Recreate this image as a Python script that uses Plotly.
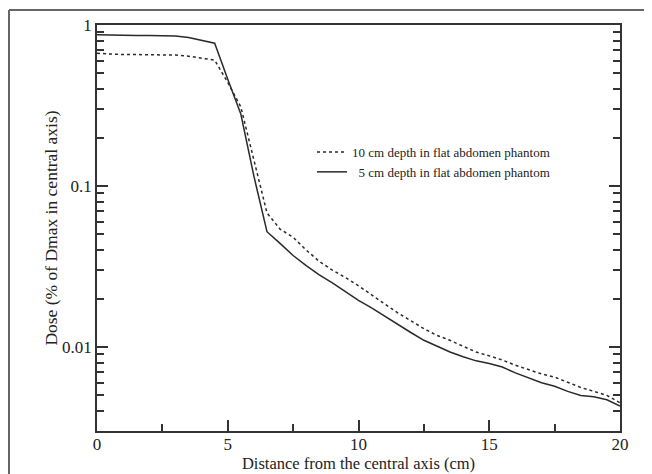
import plotly.graph_objects as go

# Distance from central axis (cm)
distance = [0, 0.5, 1, 1.5, 2, 2.5, 3, 3.5, 4, 4.5, 5, 5.5, 6, 6.5, 7, 7.5, 8, 8.5, 9, 9.5,
            10, 10.5, 11, 11.5, 12, 12.5, 13, 13.5, 14, 14.5, 15, 15.5, 16, 16.5, 17, 17.5,
            18, 18.5, 19, 19.5, 20]

dose_10cm = [0.667, 0.66, 0.655, 0.655, 0.655, 0.655, 0.65, 0.64, 0.625, 0.605, 0.44, 0.31,
             0.145, 0.068, 0.054, 0.048, 0.040, 0.034, 0.030, 0.027, 0.024, 0.021, 0.0185,
             0.0163, 0.0145, 0.013, 0.0118, 0.011, 0.0101, 0.0093, 0.0088, 0.0083, 0.0077,
             0.0072, 0.0068, 0.0065, 0.006, 0.0056, 0.0053, 0.005, 0.0045]

dose_5cm = [0.87, 0.865, 0.86, 0.86, 0.86, 0.86, 0.855, 0.835, 0.80, 0.77, 0.46, 0.28, 0.115,
            0.052, 0.044, 0.037, 0.032, 0.028, 0.025, 0.022, 0.0195, 0.0175, 0.0155, 0.0138,
            0.0123, 0.011, 0.0101, 0.0093, 0.0087, 0.0082, 0.0079, 0.0075, 0.0069, 0.0064,
            0.006, 0.0057, 0.0053, 0.005, 0.0049, 0.0047, 0.0043]

series_names = ["10 cm depth in flat abdomen phantom",
                "&nbsp;&nbsp;5 cm depth in flat abdomen phantom"]

x_tickvals = [0, 5, 10, 15, 20]
x_ticktext = ["0", "5", "10", "15", "20"]
y_tickvals = [0.01, 0.1, 1]
y_ticktext = ["0.01", "0.1", "1"]

# page has an 8px body margin; figure coordinates are page coordinates minus 8
OFF = 8
W, H = 652 - OFF, 474 - OFF
L, R, T, B = 97 - OFF, 620 - OFF, 25 - OFF, 431 - OFF

fig = go.Figure()
fig.add_trace(go.Scatter(x=distance, y=dose_10cm, mode="lines", name=series_names[0],
                         line=dict(color="#2a2a2a", width=1.5, dash="dot")))
fig.add_trace(go.Scatter(x=distance, y=dose_5cm, mode="lines", name=series_names[1],
                         line=dict(color="#2a2a2a", width=1.5)))

def px_x(p):
    return (p - OFF - L) / (R - L)

def px_y(p):
    return (B - (p - OFF)) / (B - T)

fig.add_shape(type="line", xref="paper", yref="paper", x0=px_x(9), x1=px_x(9),
              y0=px_y(480), y1=px_y(10), line=dict(color="#666666", width=2))
fig.add_shape(type="line", xref="paper", yref="paper", x0=px_x(9), x1=px_x(660),
              y0=px_y(10), y1=px_y(10), line=dict(color="#666666", width=2))

serif = "Liberation Serif"

fig.update_layout(
    width=W, height=H,
    margin=dict(l=L, r=W - R, t=T, b=H - B, autoexpand=False),
    paper_bgcolor="white", plot_bgcolor="white",
    font=dict(family=serif, color="#222222", size=16),
    showlegend=True,
    legend=dict(x=px_x(312), y=px_y(137), xanchor="left", yanchor="top",
                bgcolor="rgba(0,0,0,0)", font=dict(size=13, family=serif, color="#222222"),
                tracegroupgap=0, itemwidth=30),
    xaxis=dict(range=[0, 20], tickvals=x_tickvals, ticktext=x_ticktext, automargin=False,
               ticks="inside", ticklen=11, tickwidth=1.5, tickcolor="#333333",
               ticklabelstandoff=-3,
               showline=True, linecolor="#333333", linewidth=1.5, mirror=True,
               showgrid=False, zeroline=False,
               minor=dict(tickvals=[2.5, 7.5, 12.5, 17.5], ticks="inside", ticklen=7,
                          tickwidth=1.5, tickcolor="#333333", showgrid=False),
               title=dict(text="Distance from the central axis (cm)", standoff=0,
                          font=dict(size=16.5, family=serif, color="#222222")),
               tickfont=dict(size=17, family=serif, color="#222222")),
    yaxis=dict(type="log", range=[-2.522, 0], tickvals=y_tickvals, ticktext=y_ticktext,
               automargin=False,
               ticks="inside", ticklen=11, tickwidth=1.5, tickcolor="#333333",
               showline=True, linecolor="#333333", linewidth=1.5, mirror="ticks",
               showgrid=False, zeroline=False,
               minor=dict(dtick="D1", ticks="inside", ticklen=7, tickwidth=1.5,
                          tickcolor="#333333", showgrid=False),
               title=dict(text="Dose (% of Dmax in central axis)", standoff=0,
                          font=dict(size=17.5, family=serif, color="#222222")),
               tickfont=dict(size=17, family=serif, color="#222222")),
)

fig.write_html("out.html")
